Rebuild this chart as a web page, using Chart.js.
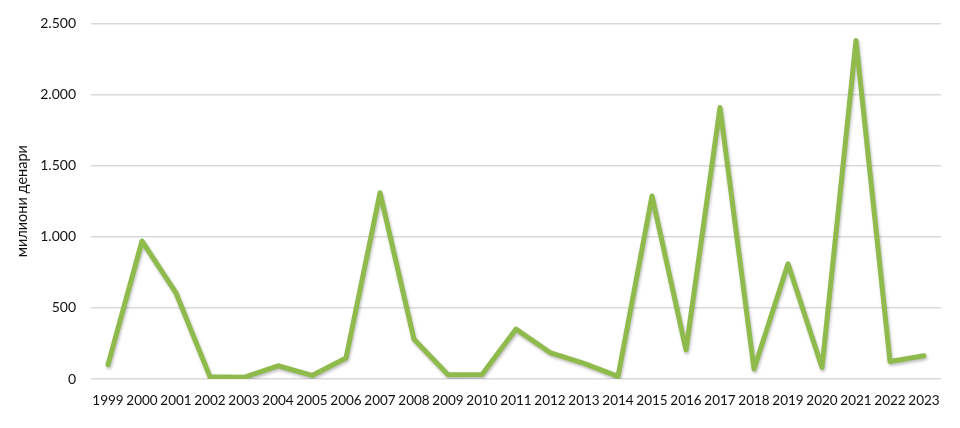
<!DOCTYPE html>
<html>
<head>
<meta charset="utf-8">
<script src="https://cdn.jsdelivr.net/npm/chart.js@4"></script>
<style>
    html, body { margin: 0; padding: 0; background: #fff; }
    #wrap { width: 960px; height: 428px; }
</style>
</head>
<body>
<div id="wrap"><canvas id="lineChart"></canvas></div>
<script>
// Податоци
const years = ['1999', '2000', '2001', '2002', '2003', '2004', '2005', '2006', '2007', '2008',
    '2009', '2010', '2011', '2012', '2013', '2014', '2015', '2016', '2017', '2018',
    '2019', '2020', '2021', '2022', '2023'];
const values = [100, 970, 605, 15, 12, 93, 25, 147, 1310, 279,
    30, 32, 351, 186, 110, 18, 1287, 205, 1909, 70,
    810, 81, 2380, 123, 163];
const yTicks = [0, 500, 1000, 1500, 2000, 2500];
const yTitle = 'милиони денари';

// Сенка под линијата
const shadowPlugin = {
    id: 'shadow',
    beforeDatasetDraw(chart) {
        const ctx = chart.ctx;
        ctx.save();
        ctx.shadowColor = 'rgba(0,0,0,0.25)';
        ctx.shadowBlur = 3;
        ctx.shadowOffsetX = 1;
        ctx.shadowOffsetY = 2;
    },
    afterDatasetDraw(chart) {
        chart.ctx.restore();
    }
};

function fmt(v) {
    return String(v).replace(/\B(?=(\d{3})+(?!\d))/g, '.');
}

const config = {
    type: 'line',
    data: {
        labels: years,
        datasets: [{
            data: values,
            borderColor: '#8fbb4c',
            borderWidth: 5,
            pointRadius: 0,
            fill: false,
            tension: 0,
            borderJoinStyle: 'round',
            borderCapStyle: 'round'
        }]
    },
    options: {
        responsive: true,
        maintainAspectRatio: false,
        animation: false,
        layout: { padding: { top: 21, right: 19, left: 0, bottom: 0 } },
        plugins: {
            legend: { display: false },
            tooltip: { enabled: false }
        },
        scales: {
            x: {
                offset: true,
                grid: { display: false, drawTicks: false },
                border: { display: false },
                ticks: {
                    autoSkip: false,
                    maxRotation: 0,
                    minRotation: 0,
                    padding: 14,
                    color: '#111',
                    font: { family: 'Lato', size: 13.5 }
                },
                afterFit(scale) { scale.height = 49; }
            },
            y: {
                min: 0,
                max: 2500,
                afterBuildTicks(scale) {
                    scale.ticks = yTicks.map(v => ({ value: v }));
                },
                grid: { color: '#d9d9d9', lineWidth: 1.5, drawTicks: false },
                border: { display: false },
                ticks: {
                    padding: 15,
                    color: '#111',
                    font: { family: 'Lato', size: 14 },
                    callback: v => fmt(v)
                },
                title: {
                    display: true,
                    text: yTitle,
                    color: '#111',
                    font: { family: 'Lato', size: 14.5 },
                    padding: { top: 14, bottom: 4 }
                },
                afterFit(scale) { scale.width = 91; }
            }
        }
    },
    plugins: [shadowPlugin]
};

window.onload = function() {
    const ctx = document.getElementById('lineChart').getContext('2d');
    new Chart(ctx, config);
};
</script>
</body>
</html>
